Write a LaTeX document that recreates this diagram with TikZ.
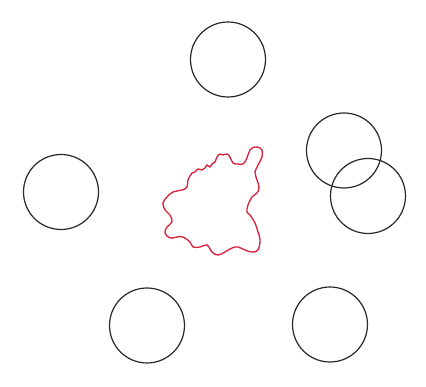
\documentclass[tikz,border=0pt]{standalone}
\usepackage{xcolor}
\usepackage{tikz}
\definecolor{ringgray}{RGB}{40, 40, 40}
\definecolor{blobred}{RGB}{215, 35, 60}

\begin{document}
\begin{tikzpicture}[x=0.0264cm, y=-0.0264cm,
    ring/.style={draw=ringgray, line width=0.9pt},
    blob/.style={draw=blobred, line width=1pt}]

  % ── Canvas ──────────────────────────────────────────────────────────
  \useasboundingbox[fill=white] (0,0) rectangle (426,387);
  \def\r{37.5}   % ring radius

  % ── Outer rings ─────────────────────────────────────────────────────
  \foreach \cx/\cy in {228/59.5, 344/150.5, 368/196, 61/192, 147/325.5, 330/324.5} {
    \draw[ring] (\cx,\cy) circle (\r);
  }

  % ── Central blob ────────────────────────────────────────────────────
  \draw[blob] plot[smooth cycle, tension=0.65] coordinates {
    (260,148) (255,147) (250,150) (247,158) (243,164) (238,164)
    (233,163) (230,157) (227,154) (223,155) (220,154) (217,157)
    (215,162) (212,164) (210,167) (207,165) (205,168) (202,170)
    (198,169) (195,172) (192,173) (188,180) (187,187) (182,190)
    (173,192) (167,197) (163,203) (165,210) (170,215) (172,222)
    (167,227) (165,233) (170,238) (177,237) (183,237) (190,242)
    (193,247) (200,247) (207,245) (212,252) (218,255) (225,252)
    (232,248) (238,247) (245,250) (252,252) (258,250) (260,240)
    (258,232) (255,223) (250,215) (247,212) (248,205) (252,197)
    (257,193) (259,187) (256,177) (255,172) (258,165) (262,157)
    (262,150)};

\end{tikzpicture}
\end{document}
